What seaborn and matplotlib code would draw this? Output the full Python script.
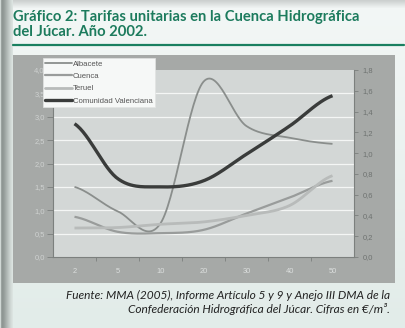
import numpy as np
import pandas as pd
import matplotlib
matplotlib.use("Agg")
import matplotlib.pyplot as plt
from matplotlib.patches import Rectangle
from matplotlib.lines import Line2D
import seaborn as sns

# ---------------- data ----------------
categories = ["2", "5", "10", "20", "30", "40", "50"]
albacete = [1.50, 0.98, 0.72, 3.75, 2.80, 2.55, 2.42]
cuenca = [0.86, 0.54, 0.51, 0.58, 0.93, 1.27, 1.63]
teruel = [0.62, 0.63, 0.70, 0.75, 0.89, 1.10, 1.74]
com_valenciana = [2.85, 1.68, 1.50, 1.63, 2.20, 2.80, 3.45]
series_names = ["Albacete", "Cuenca", "Teruel", "Comunidad Valenciana"]
left_ticks = [0.0, 0.5, 1.0, 1.5, 2.0, 2.5, 3.0, 3.5, 4.0]
left_tick_labels = ["0,0", "0,5", "1,0", "1,5", "2,0", "2,5", "3,0", "3,5", "4,0"]
right_ticks = [0.0, 0.2, 0.4, 0.6, 0.8, 1.0, 1.2, 1.4, 1.6, 1.8]
right_tick_labels = ["0,0", "0,2", "0,4", "0,6", "0,8", "1,0", "1,2", "1,4", "1,6", "1,8"]

title = "Gráfico 2: Tarifas unitarias en la Cuenca Hidrográfica\ndel Júcar. Año 2002."
source_1 = "Fuente: MMA (2005), Informe Artículo 5 y 9 y Anejo III DMA de la"
source_2 = "Confederación Hidrográfica del Júcar. Cifras en €/m³."

# ---------------- style ----------------
sns.set_theme(style="white")
plt.rcParams["font.family"] = ["Liberation Sans", "DejaVu Sans"]

W, H = 405, 328
fig = plt.figure(figsize=(W / 100, H / 100), dpi=100)

def fx(px):
    return px / W

def fy(py):
    return 1 - py / H

# background image (gradients)
bg = np.zeros((H, W, 3))
top = np.array([0xf3, 0xf7, 0xf6]) / 255
bot = np.array([0xe2, 0xec, 0xe9]) / 255
for r in range(H):
    f = r / (H - 1)
    bg[r, :, :] = top * (1 - f) + bot * f
shade = np.array([0xcc, 0xd0, 0xcf]) / 255
for r in range(8):
    f = r / 8
    bg[r, :, :] = shade * (1 - f) + bg[r, :, :] * f
strip = [0xd0, 0x9a, 0x8e, 0x92, 0x99, 0xa2, 0xab, 0xb4, 0xbd, 0xc6, 0xce, 0xd5, 0xdb]
for c, v in enumerate(strip):
    bg[:, c, :] = np.array([v, v + 8, v + 5]) / 255
bgax = fig.add_axes([0, 0, 1, 1], zorder=-10)
bgax.imshow(bg, aspect="auto", extent=[0, 1, 0, 1])
bgax.axis("off")

# gray chart panel
fig.patches.append(Rectangle((fx(13), fy(283)), fx(395) - fx(13), fy(55) - fy(283),
                             transform=fig.transFigure, facecolor="#a6a9a7",
                             edgecolor="none", zorder=-5))

# title and rule
fig.text(fx(13), fy(10), title, ha="left", va="top", fontsize=10.6, fontweight="bold",
         color="#1c7b5d", family=["Lato", "DejaVu Sans"], linespacing=1.1)
fig.add_artist(Line2D([fx(13), fx(404)], [fy(45), fy(45)], transform=fig.transFigure,
                      color="#1a8060", linewidth=1.6))

# footer
fig.text(fx(390), fy(290), source_1 + "\n" + source_2, ha="right", va="top", fontsize=8.6,
         style="italic", color="#222222", family=["Lato", "DejaVu Sans"], linespacing=1.2,
         multialignment="right")

# ---------------- plot ----------------
ax = fig.add_axes([fx(53), fy(257), fx(354) - fx(53), fy(70) - fy(257)])
ax.set_facecolor("#d3d7d6")


def smooth(vals, steps=30):
    p = np.asarray(vals, dtype=float)
    n = len(p)
    xs, ys = [], []
    for i in range(n - 1):
        p0 = p[i - 1] if i > 0 else p[i]
        p1, p2 = p[i], p[i + 1]
        p3 = p[i + 2] if i + 2 < n else p[i + 1]
        m1 = (p2 - p0) / 2
        m2 = (p3 - p1) / 2
        t = np.linspace(0, 1, steps, endpoint=False)
        h00 = 2 * t**3 - 3 * t**2 + 1
        h10 = t**3 - 2 * t**2 + t
        h01 = -2 * t**3 + 3 * t**2
        h11 = t**3 - t**2
        xs.extend(i + t)
        ys.extend(h00 * p1 + h10 * m1 + h01 * p2 + h11 * m2)
    xs.append(n - 1)
    ys.append(p[-1])
    return np.array(xs), np.array(ys)


series_vals = [albacete, cuenca, teruel, com_valenciana]
colors = ["#8a8e8c", "#999c9b", "#b8bbba", "#3a3c3b"]
widths = [1.3, 1.6, 2.0, 2.4]

# gridlines
for v in left_ticks[1:-1]:
    ax.axhline(v, color="#f4f6f5", linewidth=0.9, zorder=1)

handles = []
for name, vals, c, lw in zip(series_names, series_vals, colors, widths):
    xs, ys = smooth(vals)
    df = pd.DataFrame({"x": xs, "y": ys})
    sns.lineplot(data=df, x="x", y="y", ax=ax, color=c, linewidth=lw, zorder=3,
                 solid_capstyle="butt", sort=False)
    handles.append(Line2D([], [], color=c, linewidth=lw))

ax.set_xlim(-0.5, len(categories) - 0.5)
ax.set_ylim(0, 4)
ax.set_xlabel("")
ax.set_ylabel("")
ax.set_xticks(range(len(categories)))
ax.set_xticklabels(categories)
ax.set_xticks([i + 0.5 for i in range(len(categories) - 1)], minor=True)
ax.tick_params(axis="x", which="major", length=0, pad=8, labelsize=5.4, colors="#dcdfde")
ax.tick_params(axis="x", which="minor", length=3, width=0.6, color="#7c807e", bottom=True)
ax.set_yticks(left_ticks)
ax.set_yticklabels(left_tick_labels)
ax.tick_params(axis="y", length=4, width=0.6, color="#7c807e", pad=2, labelsize=5.4,
               labelcolor="#cfd2d1", left=True)
for s in ["top", "right"]:
    ax.spines[s].set_visible(False)
for s in ["left", "bottom"]:
    ax.spines[s].set_color("#7c807e")
    ax.spines[s].set_linewidth(0.8)

ax2 = ax.twinx()
ax2.set_ylim(0, 1.8)
ax2.set_yticks(right_ticks)
ax2.set_yticklabels(right_tick_labels)
ax2.tick_params(axis="y", length=3, width=0.6, color="#7c807e", pad=3, labelsize=5.4,
                labelcolor="#6e7270", right=True)
for s in ["top", "left", "bottom"]:
    ax2.spines[s].set_visible(False)
ax2.spines["right"].set_color("#7c807e")
ax2.spines["right"].set_linewidth(0.8)
ax2.grid(False)

leg = fig.legend(handles, series_names, loc="upper left",
                 bbox_to_anchor=(fx(43), fy(58)), bbox_transform=fig.transFigure,
                 frameon=True, fancybox=False, facecolor="#f6f8f7", edgecolor="#e2e4e3",
                 fontsize=5.6, handlelength=3.4, handletextpad=0.15, borderpad=0.3,
                 labelspacing=0.62, borderaxespad=0)
leg.get_frame().set_linewidth(0.5)
leg.get_frame().set_alpha(1)
for t in leg.get_texts():
    t.set_color("#555555")
leg.set_zorder(20)

fig.savefig("out.png", dpi=100)
